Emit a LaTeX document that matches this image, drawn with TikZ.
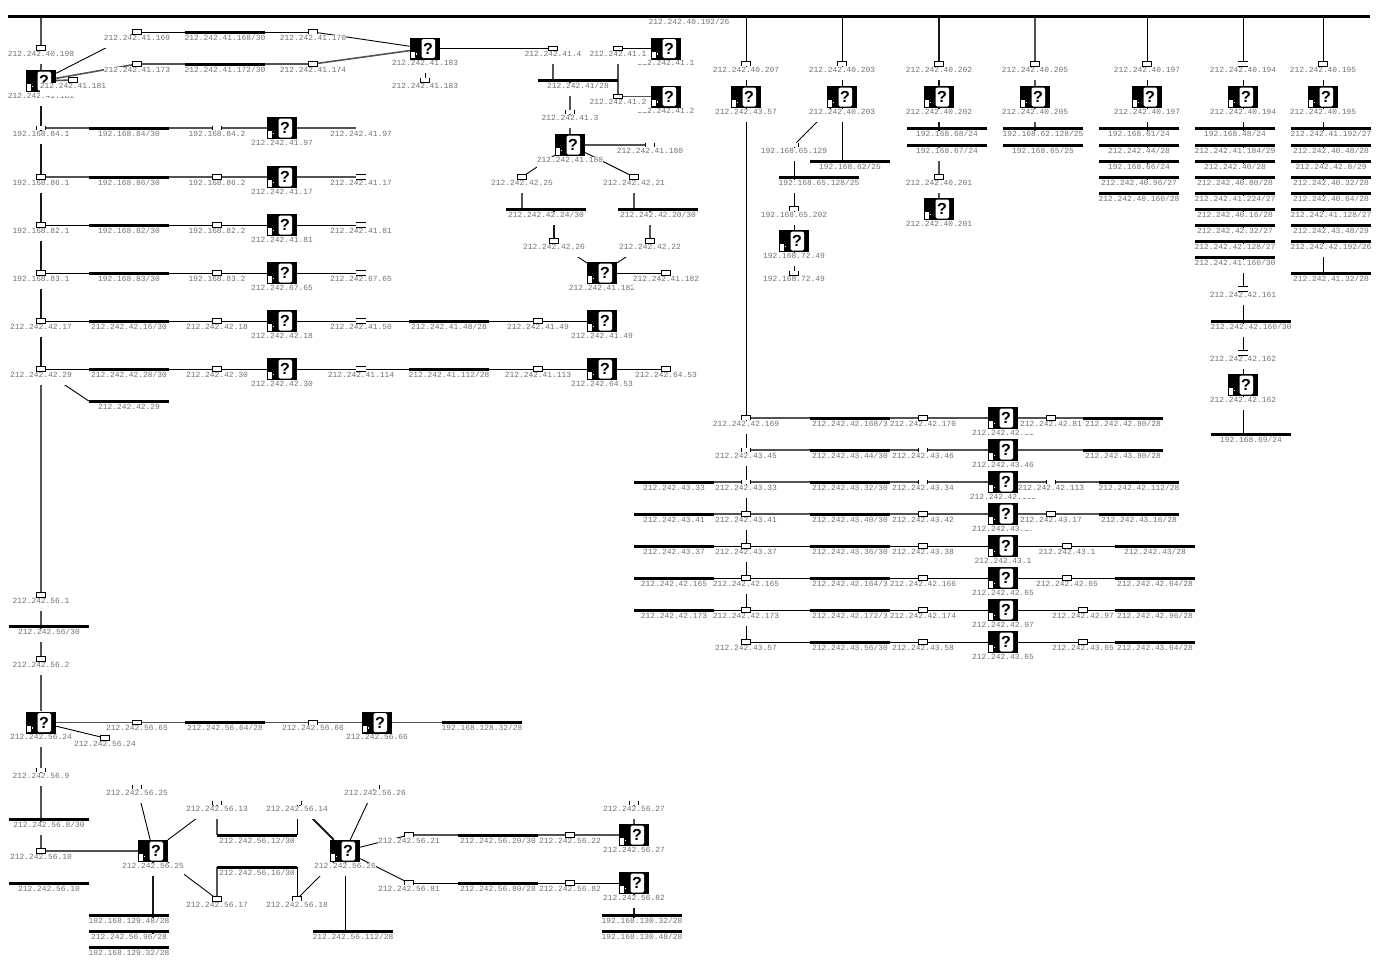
\documentclass[tikz,border=0pt]{standalone}
\usepackage{fontspec}
\setmainfont{Liberation Sans}
\setmonofont{Liberation Mono}
\usetikzlibrary{backgrounds}
\tikzset{
	rt/.style={rectangle, fill=black, inner sep=0pt, minimum width=30pt, minimum height=22pt,
		font=\fontsize{16}{16}\bfseries,
		path picture={
			\fill[white, rounded corners=1.5pt] ([shift={(-3.5pt,-9.5pt)}]path picture bounding box.center) rectangle ([shift={(10pt,9.5pt)}]path picture bounding box.center);
			\fill[white] ([shift={(-14pt,-9.5pt)}]path picture bounding box.center) rectangle ([shift={(-10.5pt,-3pt)}]path picture bounding box.center);
			\fill[white] ([shift={(-9.5pt,-6pt)}]path picture bounding box.center) rectangle ([shift={(-8pt,-4.5pt)}]path picture bounding box.center);
		}},
	lbl/.style={fill=white, inner sep=0pt, text height=5.6pt, text depth=7.4pt, anchor=base, yshift=-2.6pt,
		font=\fontsize{7.9}{8}\ttfamily, text=black!55},
	netbar/.style={rectangle, fill=black, inner sep=0pt, minimum width=80pt, minimum height=3pt},
	ifbase/.style={rectangle, inner sep=0pt, minimum width=9pt, minimum height=4.5pt},
	ifedge/.style={draw=black, line width=.9pt},
	ifbox/.style={ifbase, draw=black, fill=white, line width=.9pt},
	ifnil/.style={ifbase},
	ifopen/.style={ifbase, append after command={(\tikzlastnode.north west) edge[ifedge] (\tikzlastnode.south west) (\tikzlastnode.north east) edge[ifedge] (\tikzlastnode.south east)}},
	iftick/.style={ifbase, append after command={(\tikzlastnode.north east) edge[ifedge] (\tikzlastnode.south east)}},
	iflid/.style={ifbase, append after command={(\tikzlastnode.north west) edge[ifedge] (\tikzlastnode.north east) (\tikzlastnode.south west) edge[ifedge] (\tikzlastnode.south east)}},
	ifcap/.style={ifbase, fill=white, append after command={(\tikzlastnode.north west) edge[ifedge] (\tikzlastnode.north east) (\tikzlastnode.north west) edge[ifedge] (\tikzlastnode.south west) (\tikzlastnode.north east) edge[ifedge] (\tikzlastnode.south east)}},
	ifcup/.style={ifbase, fill=white, append after command={(\tikzlastnode.south west) edge[ifedge] (\tikzlastnode.south east) (\tikzlastnode.north west) edge[ifedge] (\tikzlastnode.south west) (\tikzlastnode.north east) edge[ifedge] (\tikzlastnode.south east)}},
	wire/.style={draw=black, line width=.9pt},
	wirefat/.style={draw=black!68, line width=1.6pt},
	wirebold/.style={draw=black!90, line width=1.8pt},
}
\begin{document}
\begin{tikzpicture}[x=1pt,y=-1pt]
	\useasboundingbox (0,0) rectangle (1382,967);
	% router labels, then routers
	\foreach \nm/\x/\y/\lb in {
		r181/41/81/212.242.41.181, r183/425/48.5/212.242.41.183,
		r97/282/128/212.242.41.97, r17/282/177/212.242.41.17, r81/282/225/212.242.41.81, r65/282/273/212.242.67.65,
		r18/282/321/212.242.42.18, r30/282/369/212.242.42.30, r49/602/321/212.242.41.49, r53/602/369/212.242.64.53,
		r1/666/48.5/212.242.41.1, r2/666/96.5/212.242.41.2, r180/570/145/212.242.41.180, r182/602/273/212.242.41.182,
		r57/746/97/212.242.43.57, r203/842/97/212.242.40.203, r202/939/97/212.242.40.202, r205/1035/97/212.242.40.205,
		r197/1147/97/212.242.40.197, r194/1243/97/212.242.40.194, r195/1323/97/212.242.40.195,
		r72/794/241/192.168.72.49, r201/939/209/212.242.40.201, r162/1243/385/212.242.42.162,
		ra/1003/418/212.242.42.81, rb/1003/450/212.242.43.46, rc/1003/482/212.242.42.113, rd/1003/514/212.242.43.17,
		re/1003/546/212.242.43.1, rf/1003/578/212.242.42.65, rg/1003/610/212.242.42.97, rh/1003/642/212.242.43.65,
		r24/41/722.5/212.242.56.24, r66/377/722.5/212.242.56.66, r25/153/851/212.242.56.25, r26/345/851/212.242.56.26,
		r27/634/835/212.242.56.27, r82/634/883/212.242.56.82}
		\node (t\nm) [lbl] at (\x,\y+14.5) {\lb};
	\foreach \nm/\x/\y in {
		r181/41/81, r183/425/48.5, r97/282/128, r17/282/177, r81/282/225, r65/282/273, r18/282/321, r30/282/369,
		r49/602/321, r53/602/369, r1/666/48.5, r2/666/96.5, r180/570/145, r182/602/273, r57/746/97, r203/842/97,
		r202/939/97, r205/1035/97, r197/1147/97, r194/1243/97, r195/1323/97, r72/794/241, r201/939/209, r162/1243/385,
		ra/1003/418, rb/1003/450, rc/1003/482, rd/1003/514, re/1003/546, rf/1003/578, rg/1003/610, rh/1003/642,
		r24/41/722.5, r66/377/722.5, r25/153/851, r26/345/851, r27/634/835, r82/634/883}
		\node (\nm) [rt] at (\x,\y) {\hspace{6pt}?};
	% interfaces
	\foreach \nm/\x/\y/\lb in {
		iA198/41/48/212.242.40.198, iB181/73/80/212.242.41.181,
		iB169/137/32/212.242.41.169, iB170/313/32/212.242.41.170,
		iB173/137/64/212.242.41.173, iB174/313/64/212.242.41.174,
		iB183/425/80/212.242.41.183, iB4/553/48.5/212.242.41.4,
		iB11/618/48.5/212.242.41.1, iB12/618/96.5/212.242.41.2, iB3/570/112/212.242.41.3,
		iB180/650/145/212.242.41.180, iC25/522/177/212.242.42.25, iC21/634/177/212.242.42.21,
		iC26/554/241/212.242.42.26, iC22/650/241/212.242.42.22, iB182/666/273/212.242.41.182,
		iD841/41/128/192.168.84.1, iD842/217/128/192.168.84.2, iB97/361/128/212.242.41.97,
		iD861/41/177/192.168.86.1, iD862/217/177/192.168.86.2, iB17/361/177/212.242.41.17,
		iD821/41/225/192.168.82.1, iD822/217/225/192.168.82.2, iB81/361/225/212.242.41.81,
		iD831/41/273/192.168.83.1, iD832/217/273/192.168.83.2, iE65/361/273/212.242.67.65,
		iC17/41/321/212.242.42.17, iC18/217/321/212.242.42.18, iB50/361/321/212.242.41.50, iB49/538/321/212.242.41.49,
		iC29/41/369/212.242.42.29, iC30/217/369/212.242.42.30, iB114/361/369/212.242.41.114, iB113/538/369/212.242.41.113,
		iE53/666/369/212.242.64.53,
		iA207/746/64/212.242.40.207, iA203/842/64/212.242.40.203, iA202/939/64/212.242.40.202,
		iA205/1035/64/212.242.40.205, iA197/1147/64/212.242.40.197, iA194/1243/64/212.242.40.194,
		iA195/1323/64/212.242.40.195, iF129/794/145/192.168.65.129, iF202/794/209/192.168.65.202,
		iG49/794/273/192.168.72.49, iA201/939/177/212.242.40.201,
		iC161/1243/289/212.242.42.161, iC162/1243/353/212.242.42.162,
		iC169/746/418/212.242.42.169, iC170/923/418/212.242.42.170, iC81/1051/418/212.242.42.81,
		iH45/746/450/212.242.43.45, iH46/923/450/212.242.43.46,
		iH33/746/482/212.242.43.33, iH34/923/482/212.242.43.34, iC113/1051/482/212.242.42.113,
		iH41/746/514/212.242.43.41, iH42/923/514/212.242.43.42, iH17/1051/514/212.242.43.17,
		iH37/746/546/212.242.43.37, iH38/923/546/212.242.43.38, iH1/1067/546/212.242.43.1,
		iC165/746/578/212.242.42.165, iC166/923/578/212.242.42.166, iC65/1067/578/212.242.42.65,
		iC173/746/610/212.242.42.173, iC174/923/610/212.242.42.174, iC97/1083/610/212.242.42.97,
		iH57/746/642/212.242.43.57, iH58/923/642/212.242.43.58, iH65/1083/642/212.242.43.65,
		iJ1/41/595/212.242.56.1, iJ2/41/659/212.242.56.2, iJ65/137/722.5/212.242.56.65,
		iJ66/313/722.5/212.242.56.66, iJ24/105/738/212.242.56.24, iJ9/41/770/212.242.56.9,
		iJ10/41/851/212.242.56.10, iJ25/137/787/212.242.56.25, iJ13/217/803/212.242.56.13,
		iJ14/297/803/212.242.56.14, iJ26/375/787/212.242.56.26, iJ17/217/899/212.242.56.17,
		iJ18/297/899/212.242.56.18, iJ21/409/835/212.242.56.21, iJ81/409/883/212.242.56.81,
		iJ22/570/835/212.242.56.22, iJ82/570/883/212.242.56.82, iJ27/634/803/212.242.56.27}
		\node (t\nm) [lbl] at (\x,\y+5.5) {\lb};
	% networks
	\foreach \nm/\x/\y/\lb in {
		bus/689/16/{212.242.40.192/26},
		nB168/225/32/{212.242.41.168/30}, nB172/225/64/{212.242.41.172/30}, nB0/578/80/{212.242.41/28},
		nC24/546/209/{212.242.42.24/30}, nC20/658/209/{212.242.42.20/30},
		nD84/129/128/{192.168.84/30}, nD86/129/177/{192.168.86/30}, nD82/129/225/{192.168.82/30}, nD83/129/273/{192.168.83/30},
		nC16/129/321/{212.242.42.16/30}, nB48/449/321/{212.242.41.48/28}, nC28/129/369/{212.242.42.28/30}, nB112/449/369/{212.242.41.112/28},
		nC29/129/401/{212.242.42.29},
		nF62/850/161/{192.168.62/25}, nF128/819/177/{192.168.65.128/25},
		nK68/947/128/{192.168.68/24}, nK67/947/145/{192.168.67/24}, nK62/1043/128/{192.168.62.128/25}, nK65/1043/145/{192.168.65/25},
		nL61/1139/128/{192.168.61/24}, nL44/1139/145/{212.242.44/28}, nL66/1139/161/{192.168.66/24}, nL96/1139/177/{212.242.40.96/27}, nL160/1139/193/{212.242.40.160/28},
		nM48/1235/128/{192.168.48/24}, nM184/1235/145/{212.242.41.184/29}, nM40/1235/161/{212.242.40/28}, nM80/1235/177/{212.242.40.80/28},
		nM224/1235/193/{212.242.41.224/27}, nM16/1235/209/{212.242.40.16/28}, nM32/1235/225/{212.242.42.32/27}, nM128/1235/241/{212.242.42.128/27}, nM160/1235/257/{212.242.41.160/30},
		nC160/1251/321/{212.242.42.160/30}, nG69/1251/434/{192.168.69/24},
		nP192/1331/128/{212.242.41.192/27}, nP48/1331/145/{212.242.40.48/28}, nP8/1331/161/{212.242.42.8/29}, nP32/1331/177/{212.242.40.32/28},
		nP64/1331/193/{212.242.40.64/28}, nP128/1331/209/{212.242.41.128/27}, nP49/1331/225/{212.242.43.48/29}, nP193/1331/241/{212.242.42.192/26}, nP33/1331/273/{212.242.41.32/28},
		nC168/850/418/{212.242.42.168/3}, nC80/1123/418/{212.242.42.80/28},
		nH44/850/450/{212.242.43.44/30}, nH80/1123/450/{212.242.43.80/28},
		nH33/674/482/{212.242.43.33}, nH32/850/482/{212.242.43.32/30}, nC112/1139/482/{212.242.42.112/28},
		nH41/674/514/{212.242.43.41}, nH40/850/514/{212.242.43.40/30}, nH16/1139/514/{212.242.43.16/28},
		nH37/674/546/{212.242.43.37}, nH36/850/546/{212.242.43.36/30}, nH0/1155/546/{212.242.43/28},
		nC165/674/578/{212.242.42.165}, nC164/850/578/{212.242.42.164/3}, nC64/1155/578/{212.242.42.64/28},
		nC173/674/610/{212.242.42.173}, nC172/850/610/{212.242.42.172/3}, nC96/1155/610/{212.242.42.96/28},
		nH56/850/642/{212.242.43.56/30}, nH64/1155/642/{212.242.43.64/28},
		nJ0/49/626/{212.242.56/30}, nJ64/225/722.5/{212.242.56.64/28}, nN128/482/722.5/{192.168.128.32/28},
		nJ8/49/819/{212.242.56.8/30}, nJ10/49/883/{212.242.56.10},
		nJ12/257/835/{212.242.56.12/30}, nJ16/257/867/{212.242.56.16/30},
		nJ20/498/835/{212.242.56.20/30}, nJ80/498/883/{212.242.56.80/28},
		nQ48/129/915/{192.168.129.48/28}, nJ96/129/931/{212.242.56.96/28}, nQ32/129/947/{192.168.129.32/28},
		nJ112/353/931/{212.242.56.112/28}, nR32/642/915/{192.168.130.32/28}, nR48/642/931/{192.168.130.48/28}}
		\node (t\nm) [lbl] at (\x,\y+5.5) {\lb};
	\foreach \nm/\x/\y in {
		nB168/225/32, nB172/225/64, nB0/578/80, nC24/546/209, nC20/658/209,
		nD84/129/128, nD86/129/177, nD82/129/225, nD83/129/273, nC16/129/321, nB48/449/321, nC28/129/369, nB112/449/369, nC29/129/401,
		nF62/850/161, nF128/819/177, nK68/947/128, nK67/947/145, nK62/1043/128, nK65/1043/145,
		nL61/1139/128, nL44/1139/145, nL66/1139/161, nL96/1139/177, nL160/1139/193,
		nM48/1235/128, nM184/1235/145, nM40/1235/161, nM80/1235/177, nM224/1235/193, nM16/1235/209, nM32/1235/225, nM128/1235/241, nM160/1235/257,
		nC160/1251/321, nG69/1251/434,
		nP192/1331/128, nP48/1331/145, nP8/1331/161, nP32/1331/177, nP64/1331/193, nP128/1331/209, nP49/1331/225, nP193/1331/241, nP33/1331/273,
		nC168/850/418, nC80/1123/418, nH44/850/450, nH80/1123/450, nH33/674/482, nH32/850/482, nC112/1139/482,
		nH41/674/514, nH40/850/514, nH16/1139/514, nH37/674/546, nH36/850/546, nH0/1155/546,
		nC165/674/578, nC164/850/578, nC64/1155/578, nC173/674/610, nC172/850/610, nC96/1155/610, nH56/850/642, nH64/1155/642,
		nJ0/49/626, nJ64/225/722.5, nN128/482/722.5, nJ8/49/819, nJ10/49/883, nJ12/257/835, nJ16/257/867, nJ20/498/835, nJ80/498/883,
		nQ48/129/915, nJ96/129/931, nQ32/129/947, nJ112/353/931, nR32/642/915, nR48/642/931}
		\node (\nm) [netbar] at (\x,\y) {};
	\node (bus) [netbar, minimum width=1362pt, minimum height=3.6pt] at (689,16.5) {};
	% the interface symbols go over the labels
	\foreach \nm/\x/\y/\st in {
		iA198/41/48/ifbox, iB181/73/80/ifbox, iB169/137/32/ifbox, iB170/313/32/ifcap, iB173/137/64/ifbox, iB174/313/64/ifbox,
		iB183/425/80/ifcup, iB4/553/48.5/ifbox, iB11/618/48.5/ifbox, iB12/618/96.5/ifbox, iB3/570/112/ifopen, iB180/650/145/ifopen,
		iC25/522/177/ifbox, iC21/634/177/ifbox, iC26/554/241/ifbox, iC22/650/241/ifbox, iB182/666/273/ifbox,
		iD841/41/128/ifopen, iD842/217/128/ifopen, iB97/361/128/ifnil, iD861/41/177/ifbox, iD862/217/177/ifbox, iB17/361/177/iflid,
		iD821/41/225/ifbox, iD822/217/225/ifbox, iB81/361/225/iflid, iD831/41/273/ifbox, iD832/217/273/ifbox, iE65/361/273/iflid,
		iC17/41/321/ifbox, iC18/217/321/ifbox, iB50/361/321/iflid, iB49/538/321/ifbox,
		iC29/41/369/ifbox, iC30/217/369/ifbox, iB114/361/369/iflid, iB113/538/369/ifbox, iE53/666/369/ifbox,
		iA207/746/64/ifcap, iA203/842/64/ifcap, iA202/939/64/ifbox, iA205/1035/64/ifbox, iA197/1147/64/ifbox, iA194/1243/64/iflid, iA195/1323/64/ifbox,
		iF129/794/145/iftick, iF202/794/209/ifcap, iG49/794/273/ifcup, iA201/939/177/ifbox, iC161/1243/289/iflid, iC162/1243/353/iflid,
		iC169/746/418/ifcap, iC170/923/418/ifbox, iC81/1051/418/ifbox, iH45/746/450/ifopen, iH46/923/450/ifopen,
		iH33/746/482/ifopen, iH34/923/482/ifopen, iC113/1051/482/ifopen, iH41/746/514/ifbox, iH42/923/514/ifbox, iH17/1051/514/ifbox,
		iH37/746/546/ifbox, iH38/923/546/ifbox, iH1/1067/546/ifbox, iC165/746/578/ifbox, iC166/923/578/ifbox, iC65/1067/578/ifbox,
		iC173/746/610/ifbox, iC174/923/610/ifbox, iC97/1083/610/ifbox, iH57/746/642/ifbox, iH58/923/642/ifbox, iH65/1083/642/ifbox,
		iJ1/41/595/ifbox, iJ2/41/659/ifbox, iJ65/137/722.5/ifbox, iJ66/313/722.5/ifcap, iJ24/105/738/ifbox, iJ9/41/770/ifopen,
		iJ10/41/851/ifbox, iJ25/137/787/ifopen, iJ13/217/803/ifopen, iJ14/297/803/iftick, iJ26/375/787/iftick, iJ17/217/899/ifbox,
		iJ18/297/899/ifcap, iJ21/409/835/ifcap, iJ81/409/883/ifcap, iJ22/570/835/ifbox, iJ82/570/883/ifbox, iJ27/634/803/ifopen}
		\node (\nm) [\st] at (\x,\y) {};
	\begin{scope}[on background layer]
		% thin
		\foreach \a/\b in {
			r181/iB169, iB169/iB170, iB170/r183, r183/iB183, r183/iB4, r1/iB11, r180/iC25, r180/iC21, iC26/r182, iC22/r182, r182/iB182,
			iD821/iD822, iD822/r81, r81/iB81, iD831/iD832, iD832/r65, r65/iE65,
			iC17/iC18, iC18/r18, r18/iB50, iB50/iB49, iB49/r49, iC29/iC30, iC30/r30, r30/iB114, iB114/iB113, iB113/r53, r53/iE53,
			iC29/nC29.west,
			iA207/r57, r57/iC169, iC169/iH45, iH45/iH33, iH33/iH41, iH41/iH37, iH37/iC165, iC165/iC173, iC173/iH57,
			iA203/r203, r203/iF129, iF129/iF202, iF202/r72, r72/iG49, iA197/r197, iA194/r194, iA195/r195,
			r194/iC161, iC161/iC162, iC162/r162,
			iH37/iH38, iH38/re, re/iH1, iH1/nH0, nH37/iH37, iC165/iC166, iC166/rf, rf/iC65, iC65/nC64, nC165/iC165,
			iC173/iC174, iC174/rg, rg/iC97, iC97/nC96, nC173/iC173, iH57/iH58, iH58/rh, rh/iH65, iH65/nH64,
			r24/iJ24, iJ25/r25, r25/iJ13, r25/iJ17, iJ26/r26, r26/iJ18, r26/iJ21, r26/iJ81, iJ81/iJ82, iJ82/r82}
			\draw[wire] (\a) -- (\b);
		\foreach \a/\b in {
			iA207/bus, iA203/bus, iA197/bus, iA194/bus, iA195/bus, r203/nF62, r197/nL160, r194/nM160, iC161/nM160, iC161/nC160, iC162/nC160,
			r162/nG69, r195/nP33, iJ14/nJ12, iJ18/nJ16, r26/nJ112}
			\draw[wire] (\a) -- (\a |- \b);
		% grey
		\foreach \a/\b in {
			iA198/r181, r181/iB181, r181/iB173, iB173/iB174, iB174/r183, iB11/iB12, iB12/r2, iB3/r180, r180/iB180,
			iD841/iD842, iD842/r97, r97/iB97, iD861/iD862, iD862/r17, r17/iB17, iC29/iJ1, iJ1/iJ2, iJ2/r24, r24/iJ9,
			iA205/r205, iA201/r201, iC169/iC170, iC170/ra, ra/iC81, iC81/nC80, iH45/iH46, iH46/rb, rb/nH80,
			nH33/iH33, iH33/iH34, iH34/rc, rc/iC113, iC113/nC112, nH41/iH41, iH41/iH42, iH42/rd, rd/iH17, iH17/nH16,
			r24/iJ65, iJ65/iJ66, iJ66/r66, r66/nN128, iJ9/iJ10, iJ10/r25, iJ21/iJ22, iJ22/r27, r27/iJ27}
			\draw[wirefat] (\a) -- (\b);
		\foreach \a/\b in {
			iA198/bus, iA205/bus, iB4/nB0, iB3/nB0, iC25/nC24, iC21/nC20, iC22/nC20, iA201/nK67, r205/nK65, iJ13/nJ12, iJ17/nJ16}
			\draw[wirefat] (\a) -- (\a |- \b);
		% black and heavy
		\foreach \a/\b in {
			iA202/r202, r181/iD841, iD841/iD861, iD861/iD821, iD821/iD831, iD831/iC17, iC17/iC29, iJ14/r26}
			\draw[wirebold] (\a) -- (\b);
		\foreach \a/\b in {
			iA202/bus, r202/nK67, iC26/nC24, r25/nQ32, r82/nR48}
			\draw[wirebold] (\a) -- (\a |- \b);
	\end{scope}
\end{tikzpicture}
\end{document}
